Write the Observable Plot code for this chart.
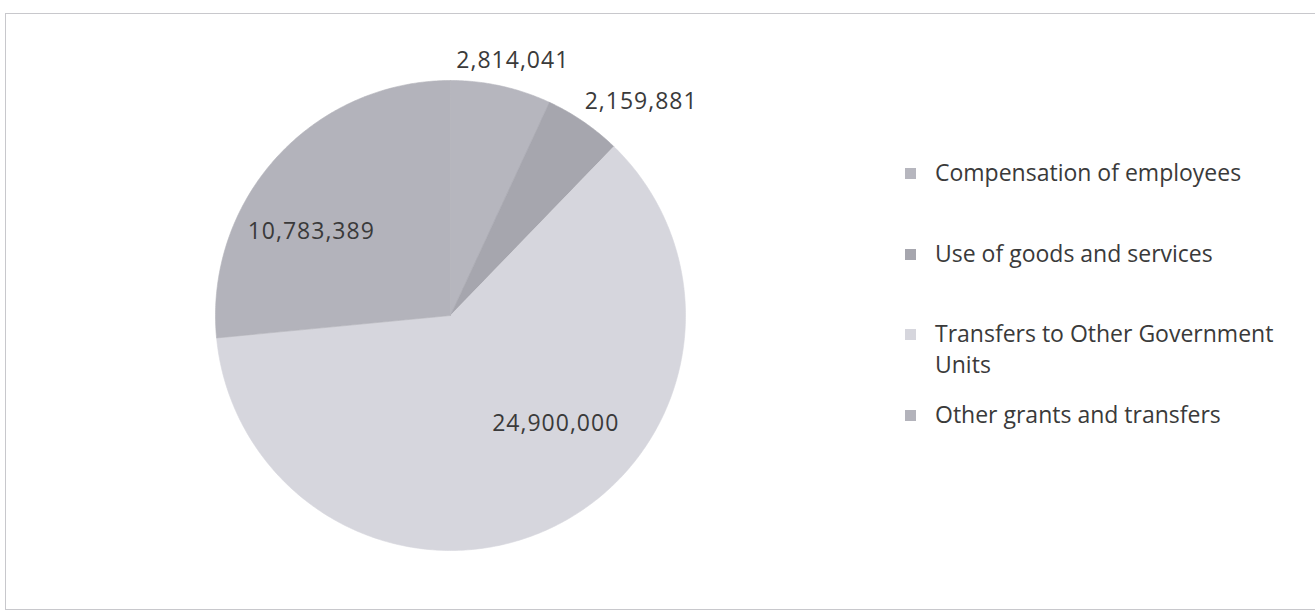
<!DOCTYPE html>
<html>
<head>
<meta charset="utf-8">
<script src="https://cdn.jsdelivr.net/npm/d3@7"></script>
<script src="https://cdn.jsdelivr.net/npm/@observablehq/plot@0.6"></script>
<style>
  body { margin: 0; background: #fff; }
  #wrap { position: relative; width: 1315px; height: 616px; overflow: hidden; font-family: "Open Sans", sans-serif; }
  #border { position: absolute; left: 5px; top: 13px; width: 1330px; height: 597px; border: 1px solid #c8c8cc; box-sizing: border-box; pointer-events: none; }
  #legend { position: absolute; left: 905px; top: 157px; }
  .item { position: absolute; left: 0; display: flex; align-items: flex-start; width: 400px; }
  .sw { width: 11px; height: 11px; margin-top: 11px; flex: none; }
  .lab { font-size: 23px; line-height: 31px; color: #3a3a3a; margin-left: 19px; width: 355px; }
</style>
</head>
<body>
<div id="wrap">
  <div id="chart"></div>
  <div id="legend"></div>
  <div id="border"></div>
</div>
<script>
const categories = ["Compensation of employees", "Use of goods and services", "Transfers to Other Government Units", "Other grants and transfers"];
const values = [2814041, 2159881, 24900000, 10783389];
const colors = ["#b6b6be", "#a6a6ae", "#d6d6dd", "#b3b3bb"];

const table = categories.map((name, i) => ({name, value: values[i]}));
const arcs = d3.pie().sort(null).value(d => d.value)(table);

// slice outlines in unit-circle coordinates (angle 0 at 12 o'clock, clockwise)
const pts = [];
for (const a of arcs) {
  pts.push({name: a.data.name, x: 0, y: 0});
  const n = Math.max(2, Math.ceil((a.endAngle - a.startAngle) / 0.01));
  for (let k = 0; k <= n; k++) {
    const t = a.startAngle + (a.endAngle - a.startAngle) * k / n;
    pts.push({name: a.data.name, x: Math.sin(t), y: Math.cos(t)});
  }
  pts.push({name: a.data.name, x: 0, y: 0});
}

const fmt = d3.format(",");
function labelAt(i, r) {
  const a = arcs[i];
  const m = (a.startAngle + a.endAngle) / 2;
  return [{x: r * Math.sin(m), y: r * Math.cos(m), text: fmt(a.data.value)}];
}

const cx = 450, cy = 315, R = 235;
const textStyle = {fontSize: 23, fill: "#3a3a3a"};

const chart = Plot.plot({
  width: 1315,
  height: 616,
  margin: 0,
  style: {fontFamily: "'Open Sans', sans-serif", background: "transparent", letterSpacing: "1px"},
  x: {domain: [-1, 1], range: [cx - R, cx + R], axis: null},
  y: {domain: [-1, 1], range: [cy + R, cy - R], axis: null},
  color: {domain: categories, range: colors},
  marks: [
    Plot.line(pts, {x: "x", y: "y", z: "name", fill: "name", stroke: "name", strokeWidth: 0.6, curve: "linear"}),
    Plot.text(labelAt(0, 1.17), {x: "x", y: "y", text: "text", dx: 3, dy: 14, ...textStyle}),
    Plot.text(labelAt(1, 1.17), {x: "x", y: "y", text: "text", dx: 35, dy: 13, ...textStyle}),
    Plot.text(labelAt(2, 0.64), {x: "x", y: "y", text: "text", dx: 40, dy: -27, ...textStyle}),
    Plot.text(labelAt(3, 0.72), {x: "x", y: "y", text: "text", dx: -14, dy: 30, ...textStyle})
  ]
});
document.getElementById("chart").appendChild(chart);

// legend
const legend = document.getElementById("legend");
categories.forEach((name, i) => {
  const it = document.createElement("div");
  it.className = "item";
  it.style.top = (i * 80.7) + "px";
  const sw = document.createElement("div");
  sw.className = "sw";
  sw.style.background = colors[i];
  const lab = document.createElement("div");
  lab.className = "lab";
  lab.textContent = name;
  it.appendChild(sw);
  it.appendChild(lab);
  legend.appendChild(it);
});
</script>
</body>
</html>
